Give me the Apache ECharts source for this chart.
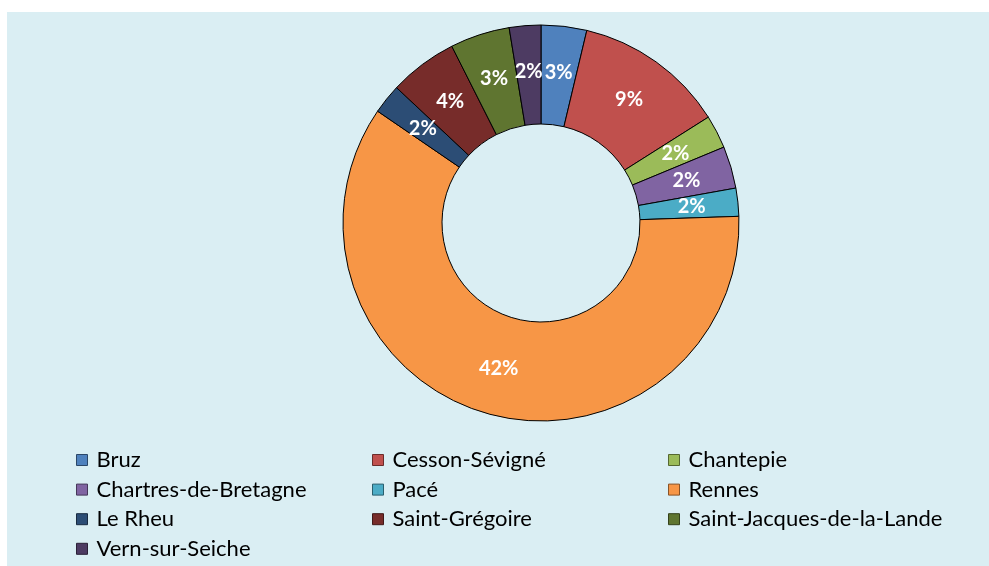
<!DOCTYPE html>
<html>
<head>
<meta charset="utf-8">
<script src="https://cdn.jsdelivr.net/npm/echarts@6/dist/echarts.min.js"></script>
<style>
  html, body { margin: 0; padding: 0; background: #ffffff; }
  #chart { width: 989px; height: 566px; }
</style>
</head>
<body>
<div id="chart"></div>
<script>
// Communes and their share (in %) of the total
const communes = [
  'Bruz', 'Cesson-Sévigné', 'Chantepie', 'Chartres-de-Bretagne', 'Pacé',
  'Rennes', 'Le Rheu', 'Saint-Grégoire', 'Saint-Jacques-de-la-Lande', 'Vern-sur-Seiche'
];
const shares = [2.6, 8.6, 1.9, 2.4, 1.6, 42.0, 1.7, 3.9, 3.4, 1.8];
const colors = [
  '#4F81BD', '#C0504D', '#9BBB59', '#8064A2', '#4BACC6',
  '#F79646', '#2C4D75', '#772C2A', '#5F7530', '#4D3B62'
];

// Legend columns (items listed top to bottom in each column)
const legendCol1 = ['Bruz', 'Chartres-de-Bretagne', 'Le Rheu', 'Vern-sur-Seiche'];
const legendCol2 = ['Cesson-Sévigné', 'Pacé', 'Saint-Grégoire'];
const legendCol3 = ['Chantepie', 'Rennes', 'Saint-Jacques-de-la-Lande'];

const FONT = "Lato, 'Open Sans', sans-serif";

function darken(hex, f) {
  const n = parseInt(hex.slice(1), 16);
  const r = Math.round(((n >> 16) & 255) * f);
  const g = Math.round(((n >> 8) & 255) * f);
  const b = Math.round((n & 255) * f);
  return 'rgb(' + r + ',' + g + ',' + b + ')';
}

const pieData = communes.map((name, i) => ({
  name: name,
  value: shares[i],
  itemStyle: { color: colors[i] }
}));

function legendColumn(items, left) {
  return {
    orient: 'vertical',
    left: left,
    top: 449,
    height: 117,
    padding: 0,
    data: items.map(n => ({
      name: n,
      itemStyle: {
        color: colors[communes.indexOf(n)],
        borderColor: darken(colors[communes.indexOf(n)], 0.55),
        borderWidth: 1
      }
    })),
    icon: 'rect',
    itemWidth: 11,
    itemHeight: 11,
    itemGap: 7.6,
    selectedMode: false,
    textStyle: {
      fontFamily: FONT,
      fontSize: 22,
      color: '#000000',
      padding: [0, 0, 0, 4],
      lineHeight: 22
    }
  };
}

const chart = echarts.init(document.getElementById('chart'), null, { renderer: 'canvas' });

chart.setOption({
  animation: false,
  graphic: [{
    type: 'rect',
    z: -10,
    shape: { x: 7, y: 12, width: 982, height: 554 },
    style: { fill: '#DAEEF3' },
    silent: true
  }],
  legend: [
    legendColumn(legendCol1, 76),
    legendColumn(legendCol2, 372),
    legendColumn(legendCol3, 668)
  ],
  series: [{
    type: 'pie',
    center: [541, 223],
    radius: [99, 198],
    startAngle: 90,
    clockwise: true,
    avoidLabelOverlap: false,
    data: pieData,
    itemStyle: { borderColor: '#000000', borderWidth: 1 },
    label: {
      show: true,
      position: 'inside',
      formatter: p => Math.round(p.value) + '%',
      color: '#ffffff',
      fontFamily: FONT,
      fontWeight: 'bold',
      fontSize: 20
    },
    labelLine: { show: false },
    emphasis: { disabled: true }
  }]
});
</script>
</body>
</html>
